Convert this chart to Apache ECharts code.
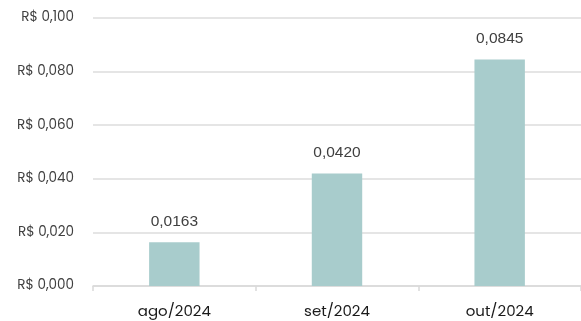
<!DOCTYPE html>
<html><head><meta charset="utf-8">
<script src="https://cdn.jsdelivr.net/npm/echarts@6/dist/echarts.min.js"></script>
<style>html,body{margin:0;padding:0;background:#fff}#c{width:581px;height:321px}</style>
</head><body><div id="c"></div>
<script>
const categories = ['ago/2024', 'set/2024', 'out/2024'];
const values = [0.0163, 0.0420, 0.0845];
const yTicks = [0, 0.02, 0.04, 0.06, 0.08, 0.1];
const font = 'Poppins, "Open Sans", sans-serif';
const chart = echarts.init(document.getElementById('c'));
chart.setOption({
  animation: false,
  grid: { left: 93, right: 0, top: 18, bottom: 35, containLabel: false },
  xAxis: {
    type: 'category', data: categories,
    axisLine: { lineStyle: { color: '#d9d9d9', width: 1.5 } },
    axisTick: { show: true, length: 5, lineStyle: { color: '#d9d9d9', width: 1.5 } },
    axisLabel: { color: '#1a1a1a', fontSize: 15, fontFamily: font, margin: 19 }
  },
  yAxis: {
    type: 'value', min: yTicks[0], max: yTicks[yTicks.length - 1], interval: 0.02,
    axisLine: { show: false }, axisTick: { show: false },
    splitLine: { lineStyle: { color: '#dddddd', width: 1.5 } },
    axisLabel: { color: '#404040', fontSize: 13.5, fontFamily: font, margin: 19,
      formatter: v => 'R$ ' + v.toFixed(3).replace('.', ',') }
  },
  series: [{
    type: 'bar', data: values, barWidth: '31%',
    itemStyle: { color: '#a8cccc' },
    label: { show: true, position: 'top', distance: 13, color: '#404040', fontSize: 15.5,
      fontFamily: '"Liberation Sans", Arial, sans-serif',
      formatter: p => p.value.toFixed(4).replace('.', ',') }
  }]
});
</script></body></html>
